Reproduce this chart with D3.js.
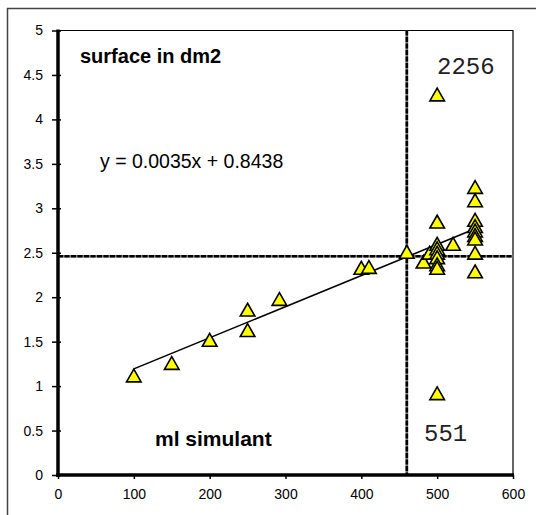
<!DOCTYPE html>
<html><head><meta charset="utf-8">
<script src="https://cdn.jsdelivr.net/npm/d3@7"></script>
<style>body{margin:0;background:#fff}svg{display:block}</style>
</head><body>
<svg id="c" width="536" height="515"></svg>
<script>
const xValues = [100,150,200,250,250,292,400,410,460,482,490,500,500,500,500,500,500,500,500,500,521,550,550,550,550,550,550,550,550,550];
const yValues = [1.12,1.26,1.52,1.63,1.86,1.98,2.33,2.34,2.51,2.40,2.50,4.28,2.85,2.60,2.55,2.50,2.45,2.37,2.33,0.92,2.60,3.24,3.09,2.87,2.80,2.75,2.70,2.66,2.50,2.29];
const xTicks = [0,100,200,300,400,500,600];
const yTicks = [0,0.5,1,1.5,2,2.5,3,3.5,4,4.5,5];
const slope = 0.0035, intercept = 0.8438;
const trendRange = [100,550];
const refX = 460, refY = 2.46;
const labels = {title:"surface in dm2", xTitle:"ml simulant", eq:"y = 0.0035x + 0.8438", top:"2256", bottom:"551"};

const svg = d3.select("#c");
const L=58, R=513, T=30.5, B=475;
const x = d3.scaleLinear().domain([0,600]).range([L,R]);
const y = d3.scaleLinear().domain([0,5]).range([B,T]);

// outer frame
svg.append("rect").attr("x",7.5).attr("y",8.5).attr("width",560).attr("height",560)
  .attr("fill","none").attr("stroke","#444").attr("stroke-width",1.5);

// plot frame top/right
svg.append("path").attr("d",`M${L},${T}H${R}V${B}`).attr("fill","none").attr("stroke","#000").attr("stroke-width",1.2);

// reference lines
function refLine(x1,y1,x2,y2){
  svg.append("line").attr("x1",x1).attr("y1",y1).attr("x2",x2).attr("y2",y2).attr("stroke","#777").attr("stroke-width",2.6);
  svg.append("line").attr("x1",x1).attr("y1",y1).attr("x2",x2).attr("y2",y2).attr("stroke","#000").attr("stroke-width",2.6).attr("stroke-dasharray","5,1.5");
}
refLine(L, y(refY), R, y(refY));
refLine(x(refX), T, x(refX), B);

// axes
const fontAxis = "Liberation Sans, Arial, sans-serif";
const yAxis = svg.append("g").attr("transform",`translate(${L},0)`)
  .call(d3.axisLeft(y).tickValues(yTicks).tickSize(6).tickPadding(9).tickFormat(d3.format("")));
const xAxis = svg.append("g").attr("transform",`translate(0,${B})`)
  .call(d3.axisBottom(x).tickValues(xTicks).tickSize(4).tickPadding(10).tickFormat(d3.format("")));
[yAxis,xAxis].forEach(g=>{
  g.select(".domain").remove();
  g.selectAll(".tick line").attr("stroke","#000").attr("stroke-width",1.5);
  g.selectAll("text").attr("font-family",fontAxis).attr("font-size",14).attr("fill","#000");
});
yAxis.selectAll(".tick line").attr("x2",-6).attr("x1",3);
svg.append("line").attr("x1",L).attr("x2",L).attr("y1",T-1).attr("y2",B+2).attr("stroke","#000").attr("stroke-width",3.5);
svg.append("line").attr("x1",L-2).attr("x2",R+1).attr("y1",B).attr("y2",B).attr("stroke","#000").attr("stroke-width",3.5);
xAxis.selectAll(".tick line").attr("y1",0).attr("y2",4);

// trendline
svg.append("line").attr("x1",x(trendRange[0])).attr("y1",y(slope*trendRange[0]+intercept))
  .attr("x2",x(trendRange[1])).attr("y2",y(slope*trendRange[1]+intercept))
  .attr("stroke","#000").attr("stroke-width",1.6);

// triangles
const tri = {draw(ctx,size){const w=7.3,h=6.4;ctx.moveTo(0,-h);ctx.lineTo(w,h);ctx.lineTo(-w,h);ctx.closePath();}};
svg.append("g").selectAll("path").data(xValues.map((v,i)=>[v,yValues[i]])).join("path")
  .attr("d",d3.symbol().type(tri))
  .attr("transform",d=>`translate(${x(d[0])},${y(d[1])})`)
  .attr("fill","#ffff00").attr("stroke","#000").attr("stroke-width",1.6).attr("stroke-linejoin","miter");

// texts
svg.append("text").attr("x",80).attr("y",62.5).attr("font-family",fontAxis).attr("font-weight","bold").attr("font-size",20).text(labels.title);
svg.append("text").attr("x",155).attr("y",446).attr("font-family",fontAxis).attr("font-weight","bold").attr("font-size",21).text(labels.xTitle);
svg.append("text").attr("x",100).attr("y",167.5).attr("font-family",fontAxis).attr("font-size",19.5).text(labels.eq);
svg.append("text").attr("x",437).attr("y",74).attr("font-family","Liberation Mono, monospace").attr("font-size",24).attr("fill","#222").text(labels.top);
svg.append("text").attr("x",424).attr("y",441).attr("font-family","Liberation Mono, monospace").attr("font-size",24).attr("fill","#222").text(labels.bottom);
</script>
</body></html>
